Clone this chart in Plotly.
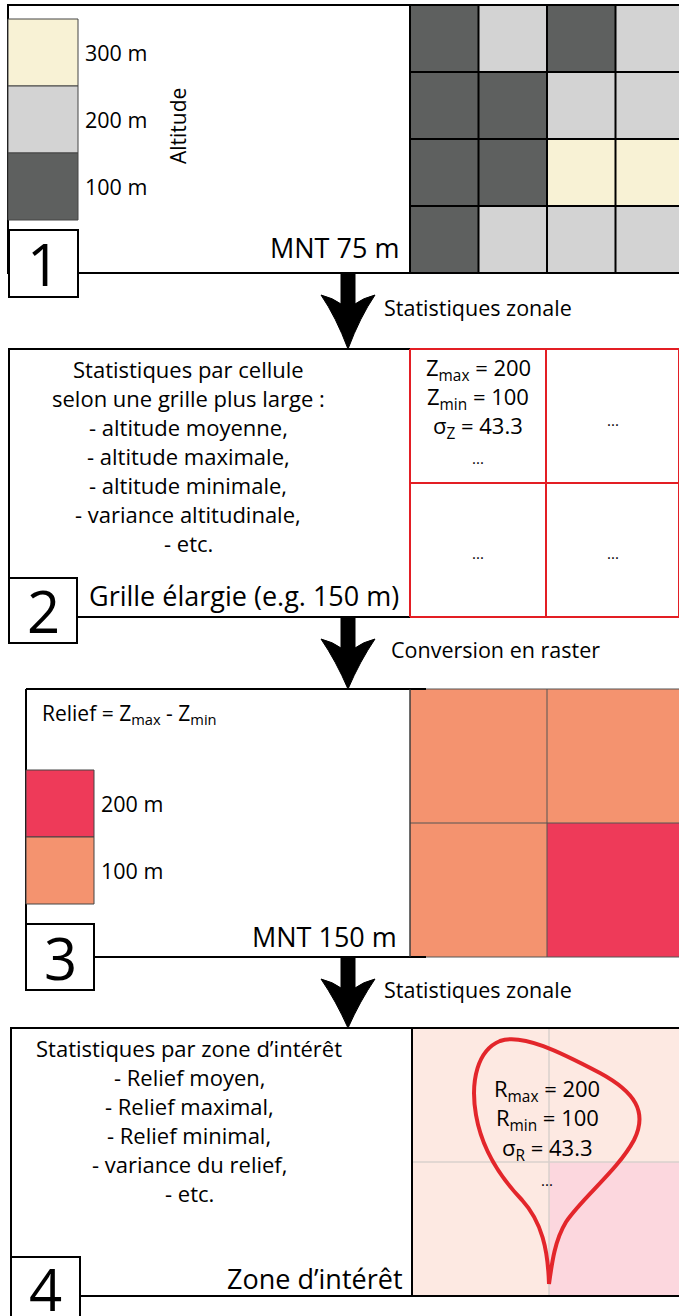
import plotly.graph_objects as go

# ---- data ----
# MNT 75 m : altitude of each cell (m)
altitude = [[100, 200, 100, 200],
            [100, 100, 200, 200],
            [100, 100, 300, 300],
            [100, 200, 200, 200]]
altitude_classes = [300, 200, 100]
# MNT 150 m : relief of each coarse cell (m)
relief = [[100, 100],
          [100, 200]]
relief_classes = [200, 100]
# statistics of the first coarse cell / of the zone
z_max, z_min, z_sigma = 200, 100, 43.3
r_max, r_min, r_sigma = 200, 100, 43.3

step2_lines = ["Statistiques par cellule", "selon une grille plus large :",
               "- altitude moyenne,", "- altitude maximale,", "- altitude minimale,",
               "- variance altitudinale,", "- etc."]
step4_lines = ["Statistiques par zone d\u2019int\u00e9r\u00eat", "- Relief moyen,",
               "- Relief maximal,", "- Relief minimal,", "- variance du relief,", "- etc."]
arrow_labels = ["Statistiques zonale", "Conversion en raster", "Statistiques zonale"]
panel_titles = ["MNT 75 m", "Grille \u00e9largie (e.g. 150 m)", "MNT 150 m", "Zone d\u2019int\u00e9r\u00eat"]

# ---- style ----
W, H = 679, 1316
FONT = "Open Sans"
DARK, LIGHT, CREAM = "#5E605F", "#D3D3D3", "#F8F2D5"
SALMON, RED = "#F4936F", "#EE3A59"
alt_colors = {100: DARK, 200: LIGHT, 300: CREAM}
rel_colors = {100: SALMON, 200: RED}

fig = go.Figure()
shapes = []
ann = []


def rect(x0, y0, x1, y1, fill="rgba(0,0,0,0)", line="black", width=2, layer="above"):
    shapes.append(dict(type="rect", x0=x0, y0=y0, x1=x1, y1=y1, xref="x", yref="y",
                       fillcolor=fill, line=dict(color=line, width=width), layer=layer))


def line(x0, y0, x1, y1, color="black", width=2):
    shapes.append(dict(type="line", x0=x0, y0=y0, x1=x1, y1=y1, xref="x", yref="y",
                       line=dict(color=color, width=width)))


def text(x, y, s, size=21, xanchor="center", angle=0):
    ann.append(dict(x=x, y=y, xref="x", yref="y", text=s, showarrow=False,
                    xanchor=xanchor, yanchor="middle", textangle=angle,
                    font=dict(family=FONT, size=size, color="black")))


def arrow(top, tip, cx=348):
    w = top + 22
    p = (f"M {cx-7},{top} L {cx+7},{top} L {cx+7},{w+9} "
         f"Q {cx+15},{w+3} {cx+27},{w} Q {cx+12},{w+22} {cx},{tip} "
         f"Q {cx-12},{w+22} {cx-27},{w} Q {cx-15},{w+3} {cx-7},{w+9} Z")
    shapes.append(dict(type="path", path=p, xref="x", yref="y",
                       fillcolor="black", line=dict(color="black", width=1)))


def number_box(x0, y0, x1, y1, n, cy=None):
    rect(x0, y0, x1, y1, fill="white")
    text((x0 + x1) / 2, cy if cy else (y0 + y1) / 2, str(n), size=58)


def discrete_scale(classes, colors):
    lo, hi = min(classes), max(classes)
    vals = sorted(classes)
    cs = []
    for i, v in enumerate(vals):
        a = 0 if i == 0 else ((vals[i - 1] + v) / 2 - lo) / (hi - lo)
        b = 1 if i == len(vals) - 1 else ((v + vals[i + 1]) / 2 - lo) / (hi - lo)
        cs += [[a, colors[v]], [b, colors[v]]]
    return cs


GX0 = 410  # left edge of the raster column

# ---- panel 1 : MNT 75 m ----
t1, b1 = 5, 273
cw, ch = 68.5, (b1 - t1) / 4
fig.add_trace(go.Heatmap(z=altitude, x0=GX0 + cw / 2, dx=cw, y0=t1 + ch / 2, dy=ch,
                         zmin=min(altitude_classes), zmax=max(altitude_classes),
                         colorscale=discrete_scale(altitude_classes, alt_colors),
                         showscale=False, hoverinfo="skip"))
for i in range(5):
    line(GX0 + i * cw, t1, GX0 + i * cw, b1)
    line(GX0, t1 + i * ch, W + 5, t1 + i * ch)
rect(8, t1, GX0, b1)
for k, v in enumerate(altitude_classes):
    y0 = 19 + k * 67
    rect(8, y0, 78, y0 + 67, fill=alt_colors[v], line="#444", width=1)
    text(83, y0 + 33, f"{v} m", size=21.5, xanchor="left")
text(178, 126, "Altitude", size=21, angle=-90)
text(401, 247, panel_titles[0], size=27, xanchor="right")
number_box(9, 230, 78, 297, 1)

arrow(b1, 349)
text(382, 307, arrow_labels[0], size=21.5, xanchor="left")

# ---- panel 2 : coarse grid ----
t2, b2 = 349, 617
rect(9, t2, GX0, b2)
mid_x, mid_y = 546, (t2 + b2) / 2
for xx in (GX0, mid_x, W):
    line(xx, t2, xx, b2, color="#E31E24", width=2)
for yy in (t2, mid_y, b2):
    line(GX0, yy, W, yy, color="#E31E24", width=2)
for k, s in enumerate(step2_lines):
    text(188, 369 + k * 29, s, size=22)
cx1 = (GX0 + mid_x) / 2
cx2 = (mid_x + W) / 2
text(cx1, 369, f"Z<sub>max</sub> = {z_max}", size=22)
text(cx1, 398, f"Z<sub>min</sub> = {z_min}", size=22)
text(cx1, 427, f"\u03c3<sub>Z</sub> = {z_sigma}", size=22)
text(cx1, 458, "...", size=15)
text(cx2, 420, "...", size=15)
text(cx1, 553, "...", size=15)
text(cx2, 553, "...", size=15)
text(401, 595, panel_titles[1], size=27, xanchor="right")
number_box(9, 578, 77, 643, 2)

arrow(b2, 689)
text(389, 649, arrow_labels[1], size=21.5, xanchor="left")

# ---- panel 3 : MNT 150 m ----
t3, b3 = 689, 957
rw, rh = 137, (b3 - t3) / 2
fig.add_trace(go.Heatmap(z=relief, x0=GX0 + rw / 2, dx=rw, y0=t3 + rh / 2, dy=rh,
                         zmin=min(relief_classes), zmax=max(relief_classes),
                         colorscale=discrete_scale(relief_classes, rel_colors),
                         showscale=False, hoverinfo="skip"))
for i in range(3):
    line(GX0 + i * rw, t3, GX0 + i * rw, b3, color="#555", width=1)
    line(GX0, t3 + i * rh, W + 5, t3 + i * rh, color="#555", width=1)
line(26, t3, 426, t3)
line(26, b3, 426, b3)
line(26, t3, 26, b3)
line(GX0, t3, GX0, b3, color="#333", width=1)
text(40, 714, "Relief = Z<sub>max</sub> - Z<sub>min</sub>", size=21, xanchor="left")
for k, v in enumerate(relief_classes):
    y0 = 770 + k * 67
    rect(26, y0, 94, y0 + 67, fill=rel_colors[v], line="#444", width=1)
    text(99, y0 + 33, f"{v} m", size=21.5, xanchor="left")
text(399, 936, panel_titles[2], size=27, xanchor="right")
number_box(26, 924, 94, 990, 3)

arrow(b3, 1028)
text(382, 989, arrow_labels[2], size=21.5, xanchor="left")

# ---- panel 4 : zone of interest ----
t4, b4 = 1028, 1296
fig.add_trace(go.Heatmap(z=relief, x0=412 + rw / 2, dx=rw, y0=t4 + rh / 2, dy=rh,
                         zmin=min(relief_classes), zmax=max(relief_classes),
                         colorscale=discrete_scale(relief_classes, rel_colors),
                         opacity=0.2, showscale=False, hoverinfo="skip"))
line(412 + rw, t4, 412 + rw, b4, color="#D8D0CC", width=1.5)
line(412, (t4 + b4) / 2, W + 5, (t4 + b4) / 2, color="#D8D0CC", width=1.5)
rect(11, t4, W + 5, b4)
line(412, t4, 412, b4)
for k, s in enumerate(step4_lines):
    text(189, 1048 + k * 29, s, size=22)
text(405, 1278, panel_titles[3], size=27, xanchor="right")
number_box(11, 1257, 80, 1340, 4, cy=1288)

zone = ("M 549,1284 C 548,1250 542,1222 522,1200 C 500,1177 482,1150 476,1115 "
        "C 470,1080 478,1050 500,1041 C 522,1033 560,1052 600,1073 "
        "C 635,1092 648,1112 634,1140 C 618,1170 582,1198 566,1222 "
        "C 555,1240 552,1262 549,1284 Z")
shapes.append(dict(type="path", path=zone, xref="x", yref="y",
                   line=dict(color="#E3262B", width=4)))
text(547, 1090, f"R<sub>max</sub> = {r_max}", size=22)
text(547, 1119, f"R<sub>min</sub> = {r_min}", size=22)
text(547, 1149, f"\u03c3<sub>R</sub> = {r_sigma}", size=22)
text(547, 1180, "...", size=15)

fig.update_layout(
    width=W, height=H, margin=dict(l=0, r=0, t=0, b=0),
    paper_bgcolor="white", plot_bgcolor="white",
    xaxis=dict(range=[0, W], visible=False, fixedrange=True),
    yaxis=dict(range=[H, 0], visible=False, fixedrange=True),
    shapes=shapes, annotations=ann, showlegend=False,
)

# the page body has an 8px default margin; remove it so the figure fills the window
fig.write_html("out.html", config={"displayModeBar": False},
               post_script="document.body.style.margin='0';")
